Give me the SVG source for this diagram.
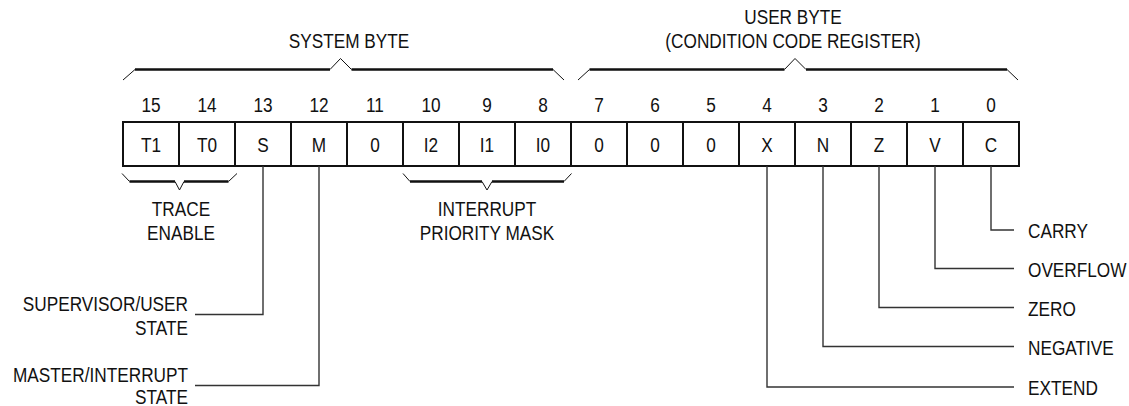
<svg xmlns="http://www.w3.org/2000/svg" width="1129" height="406" viewBox="0 0 1129 406">
<style>
text{font-family:"Liberation Sans",Arial,sans-serif;font-size:20.5px;fill:#111}
.m{text-anchor:middle}.e{text-anchor:end}.s{text-anchor:start}
.box{fill:#fff;stroke:#111;stroke-width:2}
.br{fill:none;stroke:#111;stroke-width:2.4}
.bd{fill:none;stroke:#111;stroke-width:1}
.ln{fill:none;stroke:#333;stroke-width:1.4}
</style>
<rect width="1129" height="406" fill="#fff"/>
<g id="system-byte-label">
<text class="m" transform="translate(349 48) scale(0.84 1)">SYSTEM BYTE</text>
<path class="br" d="M135 69.5H330M351.5 69.5H553"/>
<path class="bd" d="M123 80L135 69.5M330 69.5L340.5 58.5L351.5 69.5M553 69.5L564 80"/>
</g>
<g id="user-byte-label">
<text class="m" transform="translate(793 24) scale(0.84 1)">USER BYTE</text>
<text class="m" transform="translate(793 48) scale(0.84 1)">(CONDITION CODE REGISTER)</text>
<path class="br" d="M589.5 69.5H784.5M806 69.5H1007"/>
<path class="bd" d="M578 80L589.5 69.5M784.5 69.5L795 58.5L806 69.5M1007 69.5L1018 80"/>
</g>
<g id="bit15"><rect class="box" x="123" y="122" width="56" height="44"/><text class="m" transform="translate(151 112) scale(0.84 1)">15</text><text class="m" transform="translate(151 152) scale(0.84 1)">T1</text></g>
<g id="bit14"><rect class="box" x="179" y="122" width="56" height="44"/><text class="m" transform="translate(207 112) scale(0.84 1)">14</text><text class="m" transform="translate(207 152) scale(0.84 1)">T0</text></g>
<g id="bit13"><rect class="box" x="235" y="122" width="56" height="44"/><text class="m" transform="translate(263 112) scale(0.84 1)">13</text><text class="m" transform="translate(263 152) scale(0.84 1)">S</text></g>
<g id="bit12"><rect class="box" x="291" y="122" width="56" height="44"/><text class="m" transform="translate(319 112) scale(0.84 1)">12</text><text class="m" transform="translate(319 152) scale(0.84 1)">M</text></g>
<g id="bit11"><rect class="box" x="347" y="122" width="56" height="44"/><text class="m" transform="translate(375 112) scale(0.84 1)">11</text><text class="m" transform="translate(375 152) scale(0.84 1)">0</text></g>
<g id="bit10"><rect class="box" x="403" y="122" width="56" height="44"/><text class="m" transform="translate(431 112) scale(0.84 1)">10</text><text class="m" transform="translate(431 152) scale(0.84 1)">I2</text></g>
<g id="bit9"><rect class="box" x="459" y="122" width="56" height="44"/><text class="m" transform="translate(487 112) scale(0.84 1)">9</text><text class="m" transform="translate(487 152) scale(0.84 1)">I1</text></g>
<g id="bit8"><rect class="box" x="515" y="122" width="56" height="44"/><text class="m" transform="translate(543 112) scale(0.84 1)">8</text><text class="m" transform="translate(543 152) scale(0.84 1)">I0</text></g>
<g id="bit7"><rect class="box" x="571" y="122" width="56" height="44"/><text class="m" transform="translate(599 112) scale(0.84 1)">7</text><text class="m" transform="translate(599 152) scale(0.84 1)">0</text></g>
<g id="bit6"><rect class="box" x="627" y="122" width="56" height="44"/><text class="m" transform="translate(655 112) scale(0.84 1)">6</text><text class="m" transform="translate(655 152) scale(0.84 1)">0</text></g>
<g id="bit5"><rect class="box" x="683" y="122" width="56" height="44"/><text class="m" transform="translate(711 112) scale(0.84 1)">5</text><text class="m" transform="translate(711 152) scale(0.84 1)">0</text></g>
<g id="bit4"><rect class="box" x="739" y="122" width="56" height="44"/><text class="m" transform="translate(767 112) scale(0.84 1)">4</text><text class="m" transform="translate(767 152) scale(0.84 1)">X</text></g>
<g id="bit3"><rect class="box" x="795" y="122" width="56" height="44"/><text class="m" transform="translate(823 112) scale(0.84 1)">3</text><text class="m" transform="translate(823 152) scale(0.84 1)">N</text></g>
<g id="bit2"><rect class="box" x="851" y="122" width="56" height="44"/><text class="m" transform="translate(879 112) scale(0.84 1)">2</text><text class="m" transform="translate(879 152) scale(0.84 1)">Z</text></g>
<g id="bit1"><rect class="box" x="907" y="122" width="56" height="44"/><text class="m" transform="translate(935 112) scale(0.84 1)">1</text><text class="m" transform="translate(935 152) scale(0.84 1)">V</text></g>
<g id="bit0"><rect class="box" x="963" y="122" width="56" height="44"/><text class="m" transform="translate(991 112) scale(0.84 1)">0</text><text class="m" transform="translate(991 152) scale(0.84 1)">C</text></g>
<g id="trace-enable">
<path class="br" d="M129.5 181.5H175M184 181.5H228.5"/>
<path class="bd" d="M122 173.5L129.5 181.5M175 181.5L179.5 190L184 181.5M228.5 181.5L237 173.5"/>
<text class="m" transform="translate(181 215.5) scale(0.84 1)">TRACE</text>
<text class="m" transform="translate(181 239.5) scale(0.84 1)">ENABLE</text>
</g>
<g id="interrupt-priority-mask">
<path class="br" d="M410 181.5H482M492 181.5H564"/>
<path class="bd" d="M403 173.5L410 181.5M482 181.5L487 190L492 181.5M564 181.5L571.5 173.5"/>
<text class="m" transform="translate(487 215.5) scale(0.84 1)">INTERRUPT</text>
<text class="m" transform="translate(487 239.5) scale(0.84 1)">PRIORITY MASK</text>
</g>
<g id="supervisor-user-state">
<text class="e" transform="translate(188 311) scale(0.84 1)">SUPERVISOR/USER</text>
<text class="e" transform="translate(188 335) scale(0.84 1)">STATE</text>
</g>
<g id="master-interrupt-state">
<text class="e" transform="translate(188 382) scale(0.84 1)">MASTER/INTERRUPT</text>
<text class="e" transform="translate(188 403.5) scale(0.84 1)">STATE</text>
</g>
<g id="flag-labels">
<text class="s" transform="translate(1028 238) scale(0.84 1)">CARRY</text>
<text class="s" transform="translate(1028 276.5) scale(0.84 1)">OVERFLOW</text>
<text class="s" transform="translate(1028 315.5) scale(0.84 1)">ZERO</text>
<text class="s" transform="translate(1028 355) scale(0.84 1)">NEGATIVE</text>
<text class="s" transform="translate(1028 394.5) scale(0.84 1)">EXTEND</text>
</g>
<g id="connectors">
<path class="ln" d="M263 166V314.5H195"/>
<path class="ln" d="M319 166V385.5H195"/>
<path class="ln" d="M991 166V230H1014"/>
<path class="ln" d="M935 166V268.5H1014"/>
<path class="ln" d="M879 166V307.5H1014"/>
<path class="ln" d="M823 166V346.5H1014"/>
<path class="ln" d="M767 166V387H1014"/>
</g>
</svg>
